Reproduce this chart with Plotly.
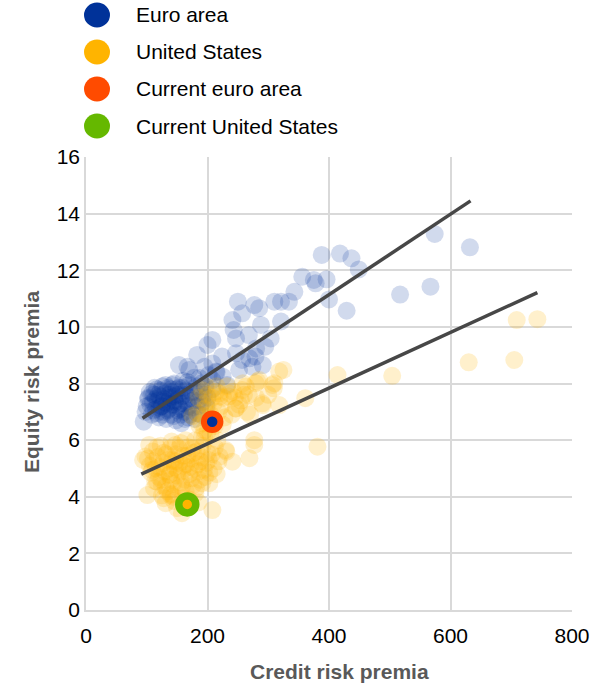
import plotly.graph_objects as go

# ---------------------------------------------------------------
# Credit risk premia (x, basis points) vs equity risk premia (y, %)
# ---------------------------------------------------------------

# Euro area observations
ea_credit = [
    574, 632, 388, 418, 437, 449, 517, 567, 429, 400, 396, 375, 378, 356,
    343, 334, 321, 310, 321, 285, 277, 250, 241, 288, 304, 247,
    257, 243, 208, 200, 183, 224, 268, 295, 279, 257, 153, 167, 208,
    280, 247, 269, 291, 170, 195, 214, 252, 274, 208, 187,
    95, 100, 103, 105, 108, 110, 112, 115, 117, 118, 120, 122, 124, 126,
    127, 129, 130, 132, 133, 135, 136, 138, 140, 141, 143, 145, 146, 148,
    150, 151, 153, 155, 157, 158, 160, 162, 164, 166, 168, 170, 172, 175,
    178, 180, 183, 186, 190, 194, 198, 202, 208, 215, 225, 232,
    125, 135, 145, 115, 155, 140,
    98, 102, 106, 109, 111, 113, 116, 119, 121, 123, 126, 128, 131, 134,
    137, 139, 142, 144, 147, 149, 152, 154, 156, 159, 161, 163, 165, 167,
    169, 171, 174, 177, 179, 182, 184, 187, 189, 192, 196, 200,
]
ea_equity = [
    13.28, 12.81, 12.54, 12.59, 12.42, 12.03, 11.14, 11.42, 10.57, 10.97,
    11.68, 11.66, 11.54, 11.77, 11.24, 10.89, 10.89, 10.89, 10.19, 10.66,
    10.77, 10.89, 10.24, 10.07, 9.59, 9.59,
    10.48, 9.89, 9.54, 9.36, 9.01, 8.95, 9.71, 9.30, 8.95, 8.83, 8.65, 8.59,
    8.71, 9.24, 9.07, 8.89, 8.65, 8.48, 8.59, 8.42, 8.48, 8.59, 8.12, 8.19,
    6.65, 7.20, 7.50, 7.70, 6.90, 7.35, 7.60, 7.10, 7.80, 7.40, 6.80, 7.55,
    7.20, 7.90, 7.00, 7.45, 7.65, 6.75, 7.30, 7.85, 7.10, 7.50, 6.90, 7.70,
    7.25, 8.00, 7.40, 6.70, 7.60, 7.05, 7.85, 7.30, 6.60, 7.55, 8.10, 7.00,
    7.75, 7.35, 6.80, 7.95, 7.50, 7.15, 8.20, 7.70, 6.95, 7.40, 8.00, 7.60,
    7.20, 8.30, 7.80, 8.40, 8.24, 7.95,
    7.20, 7.35, 7.55, 7.45, 7.10, 7.80,
    7.00, 7.45, 7.25, 7.65, 7.05, 7.85, 6.95, 7.60, 7.15, 7.75, 6.90, 7.35,
    7.95, 7.05, 7.60, 7.25, 7.95, 6.85, 7.35, 7.80, 7.20, 7.60, 6.90, 7.85,
    7.30, 6.75, 7.60, 8.05, 7.20, 6.90, 7.70, 7.40, 6.75, 7.90, 7.20, 7.70,
    6.90, 7.35, 7.90, 7.50,
]

# United States observations
us_credit = [
    709, 743, 630, 705, 504, 414, 361, 381, 318, 318, 291, 310, 282, 258,
    236, 247, 220, 277, 277, 269, 241, 220, 203, 231, 208, 158, 101, 98,
    104, 139, 117, 137, 158, 180, 131, 175, 147, 164, 191, 216, 230, 202,
    109, 94, 191, 219, 235, 257, 279, 290, 309, 325, 197, 246, 186, 307,
    285, 263, 242, 214, 198, 191,
    105, 110, 112, 115, 118, 120, 123, 125, 127, 130, 132, 134, 136, 138,
    140, 142, 144, 146, 148, 150, 152, 154, 156, 158, 160, 163, 165, 168,
    170, 173, 176, 178, 182, 185, 188, 192, 196, 200, 205, 210, 215, 170,
    150, 185, 125, 145,
    185, 195, 200, 205, 210, 215, 222, 228, 183, 190, 200, 212, 225, 240,
    255, 268, 270, 300, 252, 265, 175, 195,
    102, 107, 111, 114, 117, 121, 124, 128, 131, 135, 138, 141, 143, 147,
    151, 153, 157, 161, 164, 167, 171, 174, 177, 181, 184, 187, 190, 194,
    198, 203, 207, 212, 218, 160, 140, 128, 195, 180,
    200, 208, 218, 226, 232, 245, 205, 195, 260, 280,
]
us_equity = [
    10.24, 10.27, 8.75, 8.83, 8.27, 8.30, 7.48, 5.77, 8.42, 7.24, 7.24,
    8.01, 8.07, 8.01, 7.65, 7.12, 7.54, 6.00, 5.83, 5.36, 5.24, 5.42, 4.48,
    5.59, 3.53, 3.42, 4.06, 5.42, 5.83, 4.06, 4.53, 4.77, 4.36, 4.12, 3.77,
    5.71, 5.83, 6.00, 6.12, 6.00, 5.65, 5.30, 4.95, 5.30, 7.77, 7.65, 7.54,
    7.77, 8.01, 7.30, 7.83, 8.48, 7.30, 7.12, 6.53, 7.95, 8.12, 7.89, 7.71,
    7.71, 7.89, 4.48,
    5.10, 5.60, 4.30, 5.00, 5.40, 4.70, 5.80, 4.40, 5.20, 4.90, 5.50, 4.20,
    5.00, 5.70, 4.60, 5.30, 4.00, 5.05, 5.50, 4.75, 4.30, 5.20, 5.90, 4.90,
    5.45, 4.60, 5.15, 5.75, 4.80, 5.35, 4.40, 5.00, 5.60, 4.90, 5.25, 5.80,
    4.70, 5.55, 6.20, 5.00, 4.80, 3.90, 3.60, 3.80, 4.05, 3.85,
    7.50, 7.10, 7.60, 6.90, 7.30, 7.90, 7.20, 6.80, 6.95, 6.60, 6.30, 6.50,
    6.55, 6.90, 7.40, 7.60, 6.90, 7.60, 7.25, 7.00, 6.85, 6.35,
    5.35, 4.85, 5.25, 4.55, 5.75, 5.05, 4.60, 5.55, 4.35, 5.30, 4.80, 5.95,
    4.45, 5.25, 4.95, 5.70, 4.50, 5.10, 4.20, 5.45, 5.05, 4.65, 5.55, 4.30,
    5.15, 4.60, 5.40, 4.95, 5.20, 4.85, 5.50, 5.75, 5.25, 3.95, 4.10, 3.95,
    6.05, 6.00,
    7.20, 7.50, 7.00, 7.50, 7.90, 7.50, 6.55, 6.85, 7.60, 7.50,
]

# Latest readings
current_ea_credit = [207.7]
current_ea_equity = [6.65]
current_us_credit = [166.7]
current_us_equity = [3.73]

# Fitted lines (end points)
fit_ea_credit = [93, 633]
fit_ea_equity = [6.77, 14.45]
fit_us_credit = [91, 743]
fit_us_equity = [4.80, 11.21]

# Legend entries
legend_labels = ["Euro area", "United States", "Current euro area", "Current United States"]

BLUE = "#003299"
YELLOW = "#FFB400"
RED = "#FF4B00"
GREEN = "#65B800"
LINE = "#474747"
GRID = "#d9d9d9"
FONT = "Liberation Sans, Arial, sans-serif"

fig = go.Figure()

fig.add_trace(go.Scatter(
    x=ea_credit, y=ea_equity, mode="markers", name=legend_labels[0],
    marker=dict(size=18, color=BLUE, opacity=0.18, line=dict(width=0)),
    hoverinfo="x+y",
))
fig.add_trace(go.Scatter(
    x=us_credit, y=us_equity, mode="markers", name=legend_labels[1],
    marker=dict(size=18, color=YELLOW, opacity=0.2, line=dict(width=0)),
    hoverinfo="x+y",
))
fig.add_trace(go.Scatter(
    x=fit_ea_credit, y=fit_ea_equity, mode="lines",
    line=dict(color=LINE, width=3.5), hoverinfo="skip",
))
fig.add_trace(go.Scatter(
    x=fit_us_credit, y=fit_us_equity, mode="lines",
    line=dict(color=LINE, width=3.5), hoverinfo="skip",
))
fig.add_trace(go.Scatter(
    x=current_ea_credit, y=current_ea_equity, mode="markers", name=legend_labels[2],
    marker=dict(size=16.5, color=BLUE, line=dict(color=RED, width=6)),
))
fig.add_trace(go.Scatter(
    x=current_us_credit, y=current_us_equity, mode="markers", name=legend_labels[3],
    marker=dict(size=17, color=YELLOW, line=dict(color=GREEN, width=7.5)),
))

# Plot area geometry in pixels
W, H = 594, 684
L, R, T, B = 86, 22, 157, 74
pw, ph = W - L - R, H - T - B


def px_to_paper(px, py):
    return (px - L) / pw, (H - B - py) / ph


# Custom legend drawn above the plot area
shapes = []
annotations = []
legend_colors = [BLUE, YELLOW, RED, GREEN]
legend_y = [15, 52, 89, 126]
for label, color, py in zip(legend_labels, legend_colors, legend_y):
    mx, my = px_to_paper(97, py)
    shapes.append(dict(
        type="circle", xref="paper", yref="paper",
        xsizemode="pixel", ysizemode="pixel",
        xanchor=mx, yanchor=my,
        x0=-13, x1=13, y0=-12.5, y1=12.5,
        fillcolor=color, line=dict(width=0), layer="above",
    ))
    tx, ty = px_to_paper(134, py)
    annotations.append(dict(
        text=label, x=tx, y=ty, xref="paper", yref="paper",
        xanchor="left", yanchor="middle", showarrow=False,
        font=dict(family=FONT, size=21, color="#000000"),
    ))

# Axis titles
ax_x, ax_y = px_to_paper(339, 671)
annotations.append(dict(
    text="<b>Credit risk premia</b>", x=ax_x, y=ax_y, xref="paper", yref="paper",
    xanchor="center", yanchor="middle", showarrow=False,
    font=dict(family=FONT, size=21, color="#595959"),
))
ay_x, ay_y = px_to_paper(31, 382)
annotations.append(dict(
    text="<b>Equity risk premia</b>", x=ay_x, y=ay_y, xref="paper", yref="paper",
    xanchor="center", yanchor="middle", showarrow=False, textangle=-90,
    font=dict(family=FONT, size=21, color="#595959"),
))

fig.update_layout(
    width=W, height=H, autosize=False,
    margin=dict(l=L, r=R, t=T, b=B, pad=0),
    paper_bgcolor="white", plot_bgcolor="white",
    showlegend=False,
    font=dict(family=FONT, size=21, color="#000000"),
    shapes=shapes, annotations=annotations,
    xaxis=dict(
        range=[0, 800], tickmode="array", tickvals=[0, 200, 400, 600, 800],
        showgrid=True, gridcolor=GRID, gridwidth=1.5,
        showline=True, linecolor=GRID, linewidth=1.5,
        zeroline=False, ticks="", automargin=False, ticklabelstandoff=6,
        tickfont=dict(size=21, color="#000000"),
    ),
    yaxis=dict(
        range=[0, 16], tickmode="array", tickvals=list(range(0, 17, 2)),
        showgrid=True, gridcolor=GRID, gridwidth=1.5,
        showline=True, linecolor=GRID, linewidth=1.5,
        zeroline=False, ticks="", automargin=False,
        tickfont=dict(size=21, color="#000000"),
    ),
)

fig.write_html("out.html")
